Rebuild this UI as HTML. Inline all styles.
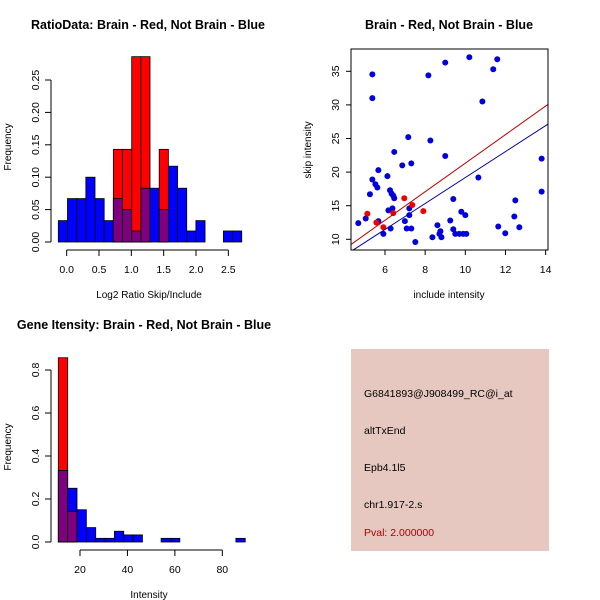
<!DOCTYPE html>
<html><head><meta charset="utf-8"><style>
html,body{margin:0;padding:0;background:#fff;}
svg{display:block;font-family:"Liberation Sans",Arial,sans-serif;}
</style></head><body>
<svg id="c" width="600" height="600" viewBox="0 0 600 600" xmlns="http://www.w3.org/2000/svg"></svg>
<script>
// ---- Panel 1 data: Log2 ratio histogram ----
const ratioBinStart = -0.129;
const ratioBinWidth = 0.1418;
const ratioBlue = [0.033,0.067,0.067,0.10,0.067,0.033,0.067,0.05,0.017,0.083,0.083,0.05,0.117,0.083,0.017,0.033,0,0,0.017,0.017];
const ratioRed  = [0,0,0,0,0,0,0.143,0.143,0.286,0.286,0,0.143,0,0,0,0,0,0,0,0];
const ratioXTicks = [0.0,0.5,1.0,1.5,2.0,2.5];
const ratioXLabels = ["0.0","0.5","1.0","1.5","2.0","2.5"];
const ratioYTicks = [0,0.05,0.10,0.15,0.20,0.25];
const ratioYLabels = ["0.00","0.05","0.10","0.15","0.20","0.25"];
// ---- Panel 2 data: scatter ----
const blueX = [4.67,5.04,5.25,5.37,5.37,5.37,5.52,5.62,5.67,5.67,5.92,6.12,6.17,6.25,6.28,6.33,6.37,6.41,6.46,6.46,6.86,6.99,7.08,7.16,7.21,7.21,7.31,7.31,7.51,8.16,8.26,8.36,8.61,8.71,8.76,8.81,9.0,9.0,9.25,9.40,9.40,9.50,9.70,9.80,9.90,10.0,10.05,10.2,10.65,10.85,11.39,11.59,11.64,11.99,12.44,12.49,12.69,13.8,13.8];
const blueY = [12.4,13.1,16.7,18.9,34.55,31.0,18.2,17.7,20.3,12.7,10.8,19.4,14.3,17.3,11.6,16.8,14.6,16.5,16.1,23.0,21.0,12.7,11.6,25.2,14.6,13.6,21.3,11.6,9.6,34.4,24.7,10.3,12.1,10.8,11.2,10.3,36.3,22.4,12.8,16.0,11.5,10.8,10.8,14.1,10.8,13.6,10.8,37.1,19.2,30.5,35.3,36.8,11.9,10.9,13.4,15.8,11.8,22.0,17.1];
const redX = [5.12,5.57,5.92,6.41,6.96,7.36,7.91];
const redY = [13.8,12.5,11.8,13.9,16.1,15.1,14.2];
const redFit = [0.08, 2.125];   // intercept, slope
const blueFit = [-0.12, 1.931];
const scXTicks = [6,8,10,12,14];
const scYTicks = [10,15,20,25,30,35];
// ---- Panel 3 data: intensity histogram ----
const intBinStart = 10.86;
const intBinWidth = 3.94;
const intBlue = [0.333,0.25,0.15,0.067,0.017,0.017,0.05,0.033,0.033,0,0,0.017,0.017,0,0,0,0,0,0,0.017];
const intRed  = [0.857,0.143,0,0,0,0,0,0,0,0,0,0,0,0,0,0,0,0,0,0];
const intXTicks = [20,40,60,80];
const intYTicks = [0,0.2,0.4,0.6,0.8];
const intYLabels = ["0.0","0.2","0.4","0.6","0.8"];
// ---- Panel 4 text ----
const infoLines = ["G6841893@J908499_RC@i_at","altTxEnd","Epb4.1l5","chr1.917-2.s"];
const pvalText = "Pval: 2.000000";

const svg = document.getElementById('c');
const NS = "http://www.w3.org/2000/svg";
function mk(tag, attrs, parent){
  const e = document.createElementNS(NS, tag);
  for (const k in attrs) e.setAttribute(k, attrs[k]);
  (parent||svg).appendChild(e);
  return e;
}
function txt(s, x, y, size, opts, parent){
  const t = mk('text', Object.assign({x:x, y:y, 'font-size':size, fill:'#000'}, opts||{}), parent);
  t.textContent = s;
  return t;
}

function histogram(name, blue, red, x0, bw, sx, sy, yBase, parent){
  for (let i=0;i<blue.length;i++){
    const xa = sx(x0+i*bw), xb = sx(x0+(i+1)*bw);
    const b = blue[i], r = red[i], m = Math.min(b,r);
    if (b>0){
      const e = mk('rect',{x:xa,y:sy(b),width:xb-xa,height:yBase-sy(b),fill:'#0000ff',stroke:'#000','stroke-width':0.8},parent);
      
      
    }
    if (r>0){
      const e = mk('rect',{x:xa,y:sy(r),width:xb-xa,height:yBase-sy(r),fill:'#ff0000',stroke:'#000','stroke-width':0.8},parent);
      
      
    }
    if (m>0){
      const e = mk('rect',{x:xa,y:sy(m),width:xb-xa,height:yBase-sy(m),fill:'#7f007f',stroke:'#000','stroke-width':0.8},parent);
      
      
    }
  }
}

// ===== Panel 1 =====
(function(){
  const g = mk('g',{});
  
  
  const sx = v => 66.67 + v*64.67;
  const sy = v => 242 - v*648;
  const t = txt('RatioData: Brain - Red, Not Brain - Blue',148,29,12.5,{'font-weight':'bold','text-anchor':'middle'},g);
   
  histogram('ratio', ratioBlue, ratioRed, ratioBinStart, ratioBinWidth, sx, sy, 242, g);
  // y axis
  mk('line',{x1:51,x2:51,y1:sy(0),y2:sy(0.25),stroke:'#000'},g);
  ratioYTicks.forEach((v,i)=>{
    mk('line',{x1:45,x2:51,y1:sy(v),y2:sy(v),stroke:'#000'},g);
    const l = txt(ratioYLabels[i],0,0,10.5,{'text-anchor':'middle',transform:`translate(39,${sy(v)}) rotate(-90)`},g);
     
  });
  // x axis
  mk('line',{x1:sx(0),x2:sx(2.5),y1:250,y2:250,stroke:'#000'},g);
  ratioXTicks.forEach((v,i)=>{
    mk('line',{x1:sx(v),x2:sx(v),y1:250,y2:256,stroke:'#000'},g);
    const l = txt(ratioXLabels[i],sx(v),273,10.5,{'text-anchor':'middle'},g);
     
  });
  const xt = txt('Log2 Ratio Skip/Include',149,298,10,{'text-anchor':'middle'},g);
   
  const yt = txt('Frequency',0,0,10,{'text-anchor':'middle',transform:'translate(11,147) rotate(-90)'},g);
   
})();

// ===== Panel 2 =====
(function(){
  const g = mk('g',{});
  
  
  const sx = v => 385 + (v-6)*20.08;
  const sy = v => 239.3 - (v-10)*6.72;
  const t = txt('Brain - Red, Not Brain - Blue',449,29,12.5,{'font-weight':'bold','text-anchor':'middle'},g);
   
  const clip = mk('clipPath',{id:'sc'},g);
  mk('rect',{x:351,y:49,width:197,height:201},clip);
  const pg = mk('g',{'clip-path':'url(#sc)'},g);
  for (let i=0;i<blueX.length;i++){
    const c = mk('circle',{cx:sx(blueX[i]),cy:sy(blueY[i]),r:3,fill:'#0000dd'},pg);
    
    
  }
  for (let i=0;i<redX.length;i++){
    const c = mk('circle',{cx:sx(redX[i]),cy:sy(redY[i]),r:3,fill:'#ee0000'},pg);
    
    
  }
  const xa=4, xb=15;
  const rl = mk('line',{x1:sx(xa),y1:sy(redFit[0]+redFit[1]*xa),x2:sx(xb),y2:sy(redFit[0]+redFit[1]*xb),stroke:'#bb0000','stroke-width':1},pg);
   
  const bl = mk('line',{x1:sx(xa),y1:sy(blueFit[0]+blueFit[1]*xa),x2:sx(xb),y2:sy(blueFit[0]+blueFit[1]*xb),stroke:'#000099','stroke-width':1},pg);
   
  mk('rect',{x:351,y:49,width:197,height:201,fill:'none',stroke:'#000'},g);
  scXTicks.forEach(v=>{
    mk('line',{x1:sx(v),x2:sx(v),y1:250,y2:255,stroke:'#000'},g);
    const l = txt(String(v),sx(v),273,10.5,{'text-anchor':'middle'},g);
     
  });
  scYTicks.forEach(v=>{
    mk('line',{x1:346,x2:351,y1:sy(v),y2:sy(v),stroke:'#000'},g);
    const l = txt(String(v),0,0,10.5,{'text-anchor':'middle',transform:`translate(339,${sy(v)}) rotate(-90)`},g);
     
  });
  const xt = txt('include intensity',449,298,10,{'text-anchor':'middle'},g);
   
  const yt = txt('skip intensity',0,0,10,{'text-anchor':'middle',transform:'translate(311,150) rotate(-90)'},g);
   
})();

// ===== Panel 3 =====
(function(){
  const g = mk('g',{});
  
  
  const sx = v => 80 + (v-20)*2.372;
  const sy = v => 542 - v*215;
  const t = txt('Gene Itensity: Brain - Red, Not Brain - Blue',144,329,12.5,{'font-weight':'bold','text-anchor':'middle'},g);
   
  histogram('intensity', intBlue, intRed, intBinStart, intBinWidth, sx, sy, 542, g);
  mk('line',{x1:51,x2:51,y1:sy(0),y2:sy(0.8),stroke:'#000'},g);
  intYTicks.forEach((v,i)=>{
    mk('line',{x1:45,x2:51,y1:sy(v),y2:sy(v),stroke:'#000'},g);
    const l = txt(intYLabels[i],0,0,10.5,{'text-anchor':'middle',transform:`translate(39,${sy(v)}) rotate(-90)`},g);
     
  });
  mk('line',{x1:sx(20),x2:sx(80),y1:550,y2:550,stroke:'#000'},g);
  intXTicks.forEach(v=>{
    mk('line',{x1:sx(v),x2:sx(v),y1:550,y2:556,stroke:'#000'},g);
    const l = txt(String(v),sx(v),573,10.5,{'text-anchor':'middle'},g);
     
  });
  const xt = txt('Intensity',149,598,10,{'text-anchor':'middle'},g);
   
  const yt = txt('Frequency',0,0,10,{'text-anchor':'middle',transform:'translate(11,447) rotate(-90)'},g);
   
})();

// ===== Panel 4 =====
(function(){
  const g = mk('g',{});
  
  
  mk('rect',{x:351,y:349,width:198,height:202,fill:'#e6c8c1'},g);
  const ys = [397,434,471,508];
  infoLines.forEach((s,i)=>{
    const l = txt(s,364,ys[i],10.5,{fill:'#000'},g);
    
    
  });
  const p = txt(pvalText,364,536,10.5,{fill:'#aa0000'},g);
  
  
})();
</script>
</body></html>
